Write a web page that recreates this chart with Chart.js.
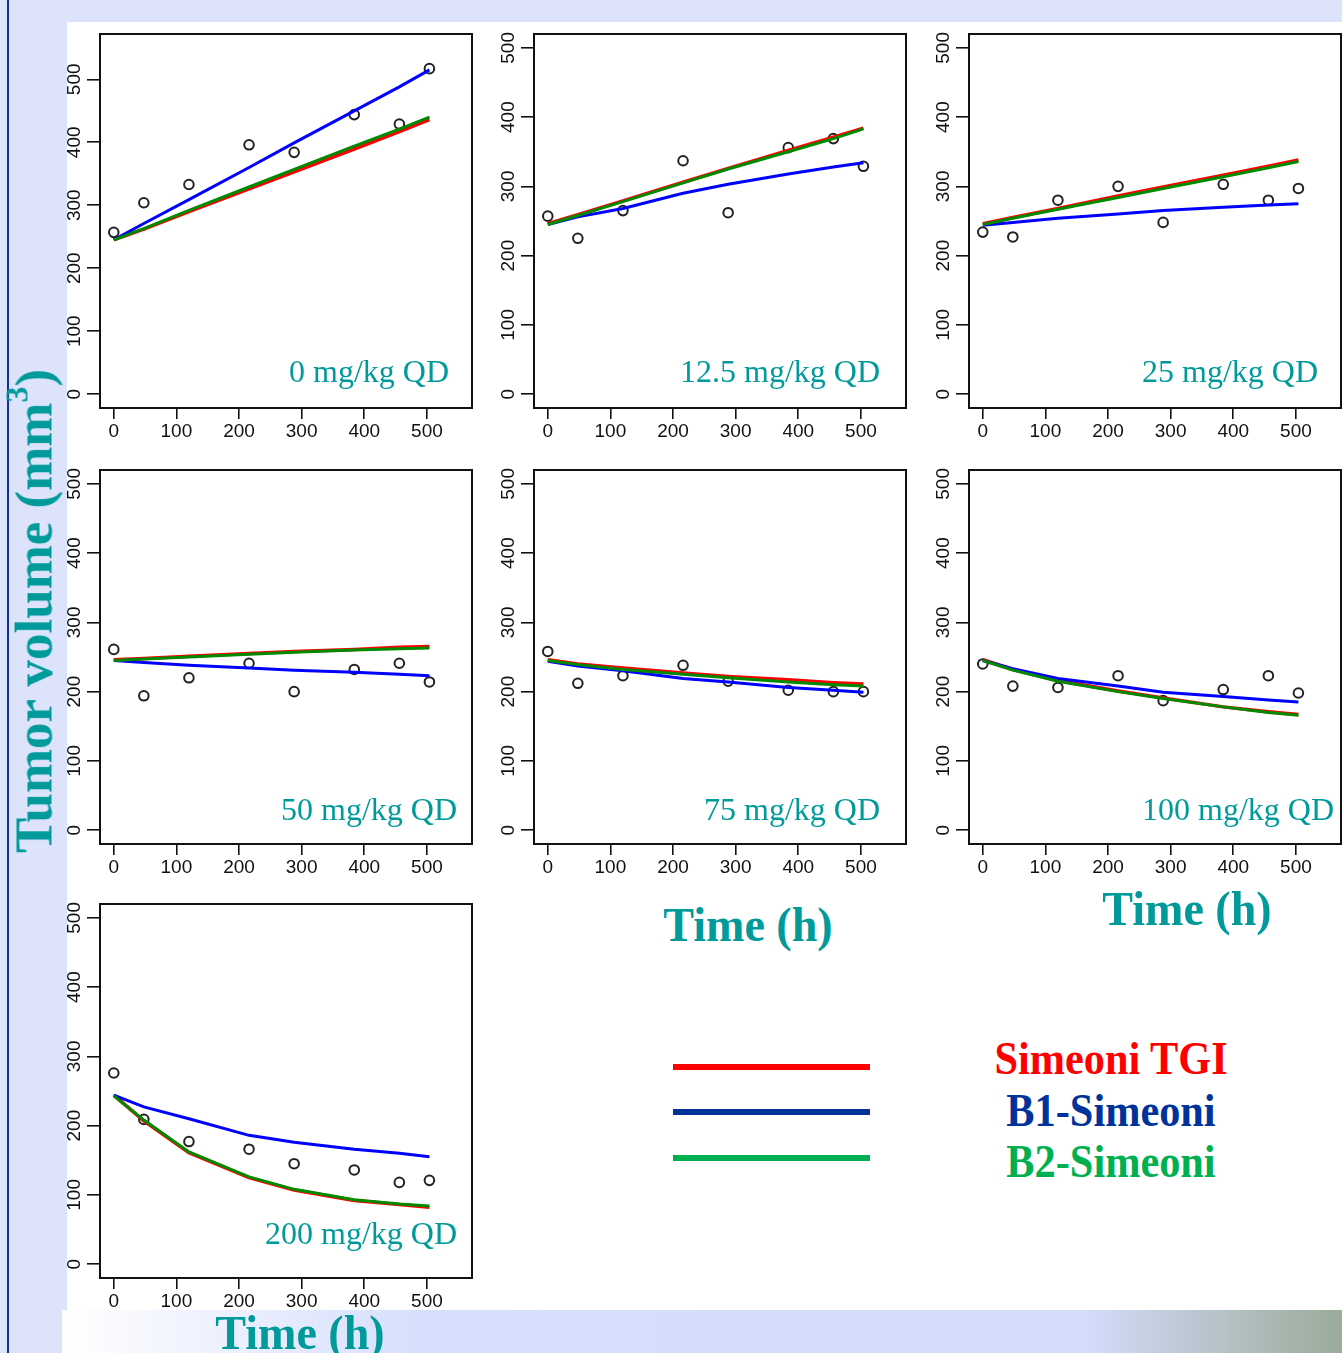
<!DOCTYPE html>
<html>
<head>
<meta charset="utf-8">
<script src="https://cdn.jsdelivr.net/npm/chart.js@4.4.1/dist/chart.umd.min.js"></script>
<style>
  html, body { margin:0; padding:0; }
  body { width:1342px; height:1353px; position:relative; overflow:hidden; background:#dce3fb; font-family:'Liberation Serif', 'Times New Roman', serif; }
  #rule  { position:absolute; left:7px; top:0; width:2px; height:1353px; background:#0b2f9e; }
  #sheet { position:absolute; left:67px; top:22px; width:1275px; height:1288px; background:#fff; }
  #band  { position:absolute; left:62px; top:1310px; width:1280px; height:43px;
           background:linear-gradient(90deg,#fff 0%,#d6dffc 28%,#d3dcfb 80%,#9aab98 100%); }
  canvas { position:absolute; }
  .dose  { position:absolute; color:#009a9a; font-size:32px; line-height:1; white-space:nowrap; }
  .xt    { position:absolute; color:#009a9a; font-size:48px; font-weight:bold; line-height:1; white-space:nowrap;
           transform:translateX(-50%) scaleX(0.96); }
  #ytitle { position:absolute; left:34px; top:611px; color:#009a9a; font-size:53px; font-weight:bold; line-height:1;
            white-space:nowrap; transform:translate(-50%,-50%) rotate(-90deg); }
  #ytitle sup { font-size:32px; vertical-align:24px; line-height:0; }
  .key   { position:absolute; left:673px; width:197px; height:6px; }
  .keyt  { position:absolute; left:1111px; font-size:46px; font-weight:bold; line-height:1; white-space:nowrap;
           transform:translateX(-50%) scaleX(0.92); }
</style>
</head>
<body>
<div id="rule"></div>
<div id="sheet"></div>
<div id="band"></div>

<script>
// ── Data ──────────────────────────────────────────────────────
const times  = [0, 48, 120, 216, 288, 384, 456, 504];
const doses  = ['0 mg/kg QD', '12.5 mg/kg QD', '25 mg/kg QD', '50 mg/kg QD', '75 mg/kg QD', '100 mg/kg QD', '200 mg/kg QD'];
const xTicks = [0, 100, 200, 300, 400, 500];
const yTicks = [0, 100, 200, 300, 400, 500];

// observed tumour volume (mm³), one row per dose
const obs0   = [257, 304, 333, 396, 384, 444, 429, 517];
const obs12  = [257, 225, 265, 337, 262, 356, 369, 329];
const obs25  = [234, 227, 280, 300, 248, 303, 280, 297];
const obs50  = [261, 194, 220, 241, 200, 232, 241, 214];
const obs75  = [258, 212, 223, 238, 215, 202, 200, 200];
const obs100 = [240, 208, 206, 223, 187, 203, 223, 198];
const obs200 = [276, 209, 177, 166, 145, 136, 118, 121];

// Simeoni TGI predictions
const sim0   = [245, 262, 290, 326, 353, 389, 417, 436];
const sim12  = [246, 259, 279, 306, 326, 352, 371, 384];
const sim25  = [246, 255, 268, 286, 299, 316, 329, 338];
const sim50  = [246, 248, 251, 255, 258, 261, 264, 265];
const sim75  = [246, 240, 234, 227, 222, 217, 213, 211];
const sim100 = [246, 232, 216, 201, 191, 178, 171, 167];
const sim200 = [244, 207, 161, 125, 107, 92, 86, 82];

// B1-Simeoni predictions
const b1_0   = [245, 271, 309, 360, 399, 450, 488, 515];
const b1_12  = [245, 256, 268, 290, 303, 318, 328, 334];
const b1_25  = [244, 248, 254, 260, 265, 270, 273, 275];
const b1_50  = [245, 242, 238, 234, 231, 228, 225, 223];
const b1_75  = [244, 237, 230, 219, 214, 206, 202, 199];
const b1_100 = [245, 233, 219, 208, 199, 193, 188, 185];
const b1_200 = [244, 227, 210, 186, 176, 166, 160, 155];

// B2-Simeoni predictions
const b2_0   = [245, 263, 292, 329, 357, 394, 421, 440];
const b2_12  = [245, 258, 278, 305, 325, 350, 369, 383];
const b2_25  = [245, 254, 267, 284, 297, 314, 327, 336];
const b2_50  = [245, 247, 250, 254, 257, 260, 262, 263];
const b2_75  = [245, 239, 232, 225, 220, 214, 210, 208];
const b2_100 = [245, 231, 215, 200, 190, 178, 170, 166];
const b2_200 = [243, 208, 162, 126, 108, 93, 87, 84];

const observed = [obs0, obs12, obs25, obs50, obs75, obs100, obs200];
const simeoni  = [sim0, sim12, sim25, sim50, sim75, sim100, sim200];
const b1       = [b1_0, b1_12, b1_25, b1_50, b1_75, b1_100, b1_200];
const b2       = [b2_0, b2_12, b2_25, b2_50, b2_75, b2_100, b2_200];

// ── Layout ────────────────────────────────────────────────────
// plot box (left, top), axis limits, dose label (right edge, baseline)
const boxes   = [[100,34],[534,34],[969,34],[100,470],[534,470],[969,470],[100,904]];
const yLimits = [[-22,572],[-20,520],[-20,520],[-20,520],[-20,520],[-20,520],[-20,520]];
const xLimits = [-22, 572];
const labelAt = [[449,382],[880,382],[1318,382],[457,820],[880,820],[1334,820],[457,1244]];
const BOX_W = 372, BOX_H = 374, AX_W = 45, AX_H = 45, PAD_T = 12, PAD_R = 8;

const pts = arr => arr.map((v, k) => ({ x: times[k], y: v }));

const frame = {
  id: 'frame',
  afterDraw(chart) {
    const { ctx, chartArea: a } = chart;
    ctx.save();
    ctx.strokeStyle = '#111';
    ctx.lineWidth = 2;
    ctx.strokeRect(a.left, a.top, a.right - a.left, a.bottom - a.top);
    ctx.restore();
  }
};

const tickFont = { family: "'Liberation Sans', Arial, sans-serif", size: 19 };

function makePanel(i) {
  const [bx, by] = boxes[i];
  const cv = document.createElement('canvas');
  cv.width  = AX_W + BOX_W + PAD_R;
  cv.height = PAD_T + BOX_H + AX_H;
  cv.style.left = (bx - AX_W) + 'px';
  cv.style.top  = (by - PAD_T) + 'px';
  document.body.appendChild(cv);

  new Chart(cv, {
    type: 'line',
    data: { datasets: [
      { label:'Observed', data:pts(observed[i]), showLine:false, order:4,
        pointRadius:4.8, pointBorderWidth:2, pointBorderColor:'#222', pointBackgroundColor:'rgba(0,0,0,0)' },
      { label:'Simeoni TGI', data:pts(simeoni[i]), borderColor:'#ff0000', borderWidth:3.5, pointRadius:0, order:3 },
      { label:'B1-Simeoni',  data:pts(b1[i]),      borderColor:'#0000ff', borderWidth:3,   pointRadius:0, order:2 },
      { label:'B2-Simeoni',  data:pts(b2[i]),      borderColor:'#008a00', borderWidth:3,   pointRadius:0, order:1 },
    ]},
    options: {
      responsive:false, animation:false, devicePixelRatio:1,
      layout:{ padding:{ left:0, top:PAD_T, right:PAD_R, bottom:0 } },
      plugins:{ legend:{ display:false }, tooltip:{ enabled:false } },
      elements:{ line:{ tension:0 } },
      scales:{
        x:{ type:'linear', min:xLimits[0], max:xLimits[1],
            afterBuildTicks: ax => { ax.ticks = xTicks.map(v => ({ value:v })); },
            afterFit: ax => { ax.height = AX_H; },
            grid:{ display:true, drawOnChartArea:false, drawTicks:true, tickLength:11, color:'#111', lineWidth:1.6 },
            border:{ display:false },
            ticks:{ color:'#111', font:tickFont, padding:1, maxRotation:0, autoSkip:false } },
        y:{ type:'linear', min:yLimits[i][0], max:yLimits[i][1],
            afterBuildTicks: ax => { ax.ticks = yTicks.map(v => ({ value:v })); },
            afterFit: ax => { ax.width = AX_W; },
            grid:{ display:true, drawOnChartArea:false, drawTicks:true, tickLength:13, color:'#111', lineWidth:1.6 },
            border:{ display:false },
            ticks:{ color:'#111', font:tickFont, padding:-4, minRotation:90, maxRotation:90,
                    crossAlign:'center', autoSkip:false } }
      }
    },
    plugins:[frame]
  });

  const lab = document.createElement('div');
  lab.className = 'dose';
  lab.textContent = doses[i];
  lab.style.right = (1342 - labelAt[i][0]) + 'px';
  lab.style.top   = (labelAt[i][1] - 27) + 'px';
  document.body.appendChild(lab);
}

doses.forEach((_, i) => makePanel(i));
</script>

<!-- axis titles -->
<div id="ytitle">Tumor volume (mm<sup>3</sup>)</div>
<div class="xt" style="left:748px;top:901px">Time (h)</div>
<div class="xt" style="left:1187px;top:885px">Time (h)</div>
<div class="xt" style="left:300px;top:1309px">Time (h)</div>

<!-- key -->
<div class="key" style="top:1064px;background:#ff0000"></div>
<div class="key" style="top:1109px;background:#003399"></div>
<div class="key" style="top:1155px;background:#00b050"></div>
<div class="keyt" style="top:1036px;color:#ff0000">Simeoni TGI</div>
<div class="keyt" style="top:1088px;color:#003399">B1-Simeoni</div>
<div class="keyt" style="top:1139px;color:#00b050">B2-Simeoni</div>
</body>
</html>
